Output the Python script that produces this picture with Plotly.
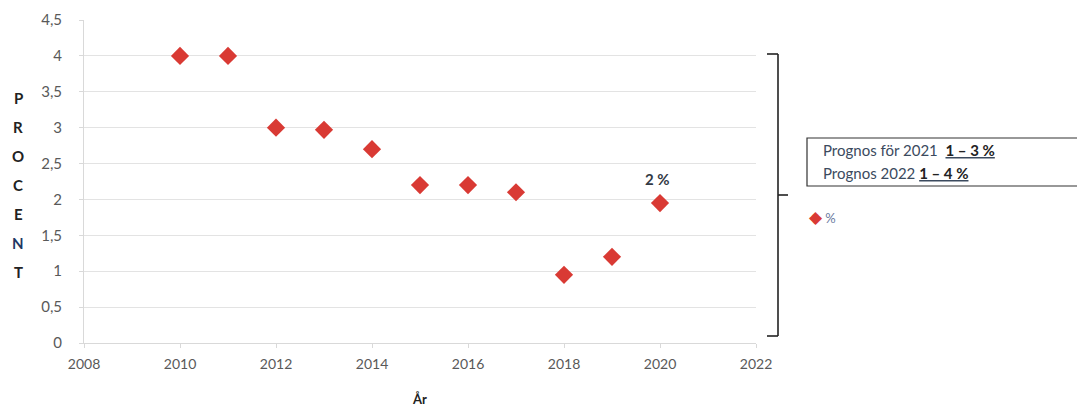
import plotly.graph_objects as go

years = [2010, 2011, 2012, 2013, 2014, 2015, 2016, 2017, 2018, 2019, 2020]
percent = [4.0, 4.0, 3.0, 2.97, 2.7, 2.2, 2.2, 2.1, 0.95, 1.2, 1.95]
x_ticks = [2008, 2010, 2012, 2014, 2016, 2018, 2020, 2022]
y_ticks = [0, 0.5, 1, 1.5, 2, 2.5, 3, 3.5, 4, 4.5]
y_title_letters = list("PROCENT")
series_name = "%"
last_label = "2 %"
prognos_lines = [("Prognos för 2021  ", "1 – 3 %"), ("Prognos 2022 ", "1 – 4 %")]

FONT = "Lato"
OFF = 8  # page body margin
# desired plot area in page pixels
PL, PR, PT, PB = 84, 756, 20, 343
W, H = 1085 - OFF, 410 - OFF
L, T = PL - OFF, PT - OFF
R = W - (PR - OFF)
B = H - (PB - OFF)
PW, PH = PR - PL, PB - PT

def px_x(px):
    return (px - PL) / PW

def px_y(py):
    return (PB - py) / PH

RED = "#d93a34"

fig = go.Figure()
fig.add_trace(go.Scatter(
    x=years, y=percent, mode="markers", name=series_name, showlegend=False,
    marker=dict(symbol="diamond", size=14, color=RED, line=dict(width=0)),
))

fig.add_annotation(x=years[-1], y=percent[-1], text="<b>" + last_label + "</b>",
                   showarrow=False, yshift=24, xshift=-3,
                   font=dict(family=FONT, size=15, color="#333a45"))

# stacked y-axis title
for i, ch in enumerate(y_title_letters):
    fig.add_annotation(xref="paper", yref="paper", x=px_x(18), y=px_y(98 + i * 29),
                       text="<b>" + ch + "</b>", showarrow=False, xanchor="center",
                       yanchor="middle",
                       font=dict(family=FONT, size=15,
                                 color="#1f3864" if ch == "N" else "#222222"))

# bracket
bx = px_x(778)
ytop, ybot, ymid = px_y(54), px_y(336), px_y(195)
line_style = dict(color="#222222", width=1.6)
fig.add_shape(type="line", xref="paper", yref="paper", x0=bx, x1=bx, y0=ybot, y1=ytop, line=line_style)
fig.add_shape(type="line", xref="paper", yref="paper", x0=px_x(767), x1=bx, y0=ytop, y1=ytop, line=line_style)
fig.add_shape(type="line", xref="paper", yref="paper", x0=px_x(767), x1=bx, y0=ybot, y1=ybot, line=line_style)
fig.add_shape(type="line", xref="paper", yref="paper", x0=bx, x1=px_x(788), y0=ymid, y1=ymid, line=line_style)

# prognos box
fig.add_shape(type="rect", xref="paper", yref="paper",
              x0=px_x(807), x1=px_x(1100), y0=px_y(186), y1=px_y(138),
              line=dict(color="#333333", width=1.2), fillcolor="rgba(0,0,0,0)")
for i, (a, b) in enumerate(prognos_lines):
    fig.add_annotation(xref="paper", yref="paper", x=px_x(821), y=px_y(150 + i * 23),
                       xanchor="left", yanchor="middle", align="left", showarrow=False,
                       text=a + "<b><u><span style='color:#222222'>" + b + "</span></u></b>",
                       font=dict(family=FONT, size=15, color="#3b4a5e"))

# legend entry
fig.add_annotation(xref="paper", yref="paper", x=px_x(807), y=px_y(217),
                   xanchor="left", yanchor="middle", showarrow=False,
                   text="<span style='color:" + RED + "; font-size:17px'>◆</span> " + series_name,
                   font=dict(family=FONT, size=13, color="#6b7aa0"))

fig.update_layout(
    width=W, height=H,
    margin=dict(l=L, r=R, t=T, b=B, autoexpand=False),
    paper_bgcolor="white", plot_bgcolor="white",
    separators=", ",
    font=dict(family=FONT, size=13, color="#595959"),
    showlegend=False,
    xaxis=dict(range=[2008, 2022], tickvals=x_ticks, tickformat="d",
               showgrid=False, showline=True, linecolor="#d9d9d9", linewidth=1,
               ticks="outside", ticklen=4, tickcolor="#d9d9d9",
               zeroline=False, automargin=False, ticklabelstandoff=4,
               title=dict(text="<b>År</b>", font=dict(family=FONT, size=13, color="#222222"), standoff=24),
               tickfont=dict(family=FONT, size=14, color="#595959")),
    yaxis=dict(range=[0, 4.5], tickvals=y_ticks, automargin=False,
               showgrid=True, gridcolor="#e3e3e3", gridwidth=1,
               showline=True, linecolor="#d9d9d9", zeroline=False,
               ticks="outside", ticklen=4, tickcolor="#d9d9d9", ticklabelstandoff=14,
               tickfont=dict(family=FONT, size=15, color="#595959")),
)

fig.write_html("out.html")
